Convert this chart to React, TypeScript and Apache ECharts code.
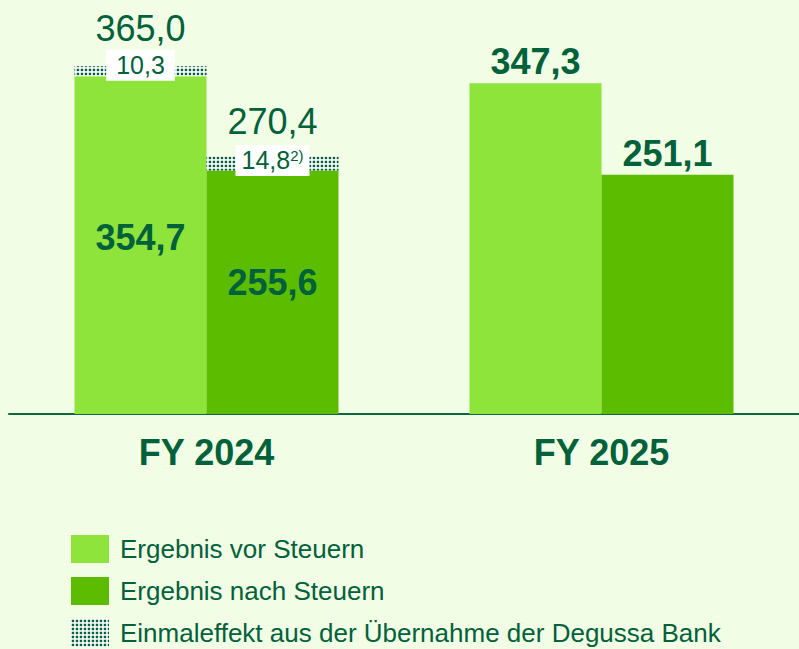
import React, { useEffect, useRef } from 'react';
import * as echarts from 'echarts';

const categories = ['FY 2024', 'FY 2025'];
const preTax = [354.7, 347.3];
const afterTax = [255.6, 251.1];
const oneOffPreTax: (number | null)[] = [10.3, null];
const oneOffAfterTax: (number | null)[] = [14.8, null];
const legendNames = [
  'Ergebnis vor Steuern',
  'Ergebnis nach Steuern',
  'Einmaleffekt aus der Übernahme der Degussa Bank',
];
const footnoteAfterTax = '2)';

const DARK = '#00613b';
const LIGHT_BAR = '#8ee43b';
const DARK_BAR = '#5cbc00';
const BG = '#f1fde4';
const FONT = '"Liberation Sans", Arial, sans-serif';

const fmt = (v: number) => v.toFixed(1).replace('.', ',');

function makePattern() {
  const s = 4;
  const c = document.createElement('canvas');
  c.width = 4 * s;
  c.height = 4 * s;
  const ctx = c.getContext('2d')!;
  ctx.fillStyle = '#ffffff';
  ctx.fillRect(0, 0, 4 * s, 4 * s);
  ctx.fillStyle = DARK;
  ctx.fillRect(0.75 * s, 0.75 * s, 2.4 * s, 2.4 * s);
  return { image: c, repeat: 'repeat', imageWidth: 4, imageHeight: 4 } as any;
}

export default function App() {
  const ref = useRef<HTMLDivElement>(null);
  useEffect(() => {
    document.body.style.margin = '0';
    if (!ref.current) return;
    const chart = echarts.init(ref.current, undefined, { renderer: 'svg' });
    const pattern = makePattern();
    const boldLabel = { fontSize: 36, fontWeight: 'bold', color: DARK, fontFamily: FONT };
    const option: any = {
      animation: false,
      backgroundColor: BG,
      textStyle: { fontFamily: FONT },
      grid: { left: 9, right: -6, top: 33, bottom: 235 },
      xAxis: {
        type: 'category',
        data: categories,
        axisLine: { lineStyle: { color: '#0d6a40', width: 2 } },
        axisTick: { show: false },
        axisLabel: { fontSize: 36, fontWeight: 'bold', color: DARK, fontFamily: FONT, margin: 20 },
      },
      yAxis: { type: 'value', min: 0, max: 400, show: false, splitLine: { show: false } },
      legend: {
        orient: 'vertical',
        left: 71,
        top: 535,
        padding: 0,
        itemWidth: 38,
        itemHeight: 28,
        itemGap: 14,
        icon: 'rect',
        selectedMode: false,
        data: legendNames,
        textStyle: { fontSize: 26, color: DARK, fontFamily: FONT, padding: [0, 0, 0, 6] },
      },
      series: [
        {
          name: legendNames[0],
          type: 'bar',
          stack: 'pre',
          barWidth: 132,
          barGap: '0%',
          itemStyle: { color: LIGHT_BAR },
          label: { show: true, ...boldLabel, formatter: (p: any) => fmt(p.value) },
          data: preTax.map((v, i) => ({
            value: v,
            label: i === 0 ? { position: 'inside', offset: [0, -8] } : { position: 'top', distance: 4 },
          })),
        },
        {
          name: legendNames[2],
          type: 'bar',
          stack: 'pre',
          barWidth: 132,
          barGap: '0%',
          itemStyle: { color: pattern },
          label: {
            show: true,
            position: 'inside',
            offset: [0, -6],
            backgroundColor: '#ffffff',
            padding: [3, 10],
            fontSize: 25,
            color: DARK,
            fontFamily: FONT,
            formatter: (p: any) => fmt(p.value),
          },
          data: oneOffPreTax,
        },
        {
          name: 'Summe vor Steuern',
          type: 'bar',
          stack: 'pre',
          barWidth: 132,
          barGap: '0%',
          silent: true,
          itemStyle: { color: 'rgba(0,0,0,0)' },
          label: {
            show: true,
            position: 'top',
            distance: 20,
            fontSize: 36,
            color: DARK,
            fontFamily: FONT,
            formatter: (p: any) => fmt(preTax[p.dataIndex] + (oneOffPreTax[p.dataIndex] as number)),
          },
          data: oneOffPreTax.map((v) => (v == null ? null : 0)),
        },
        {
          name: legendNames[1],
          type: 'bar',
          stack: 'after',
          barWidth: 132,
          barGap: '0%',
          itemStyle: { color: DARK_BAR },
          label: { show: true, ...boldLabel, formatter: (p: any) => fmt(p.value) },
          data: afterTax.map((v, i) => ({
            value: v,
            label: i === 0 ? { position: 'inside', offset: [0, -10] } : { position: 'top', distance: 3 },
          })),
        },
        {
          name: legendNames[2],
          type: 'bar',
          stack: 'after',
          barWidth: 132,
          barGap: '0%',
          itemStyle: { color: pattern },
          label: {
            show: true,
            position: 'inside',
            offset: [0, -3],
            backgroundColor: '#ffffff',
            padding: [3, 6],
            color: DARK,
            fontFamily: FONT,
            formatter: (p: any) => `{a|${fmt(p.value)}}{s|${footnoteAfterTax}}`,
            rich: {
              a: { fontSize: 25, color: DARK, fontFamily: FONT },
              s: { fontSize: 15, color: DARK, fontFamily: FONT, verticalAlign: 'top' },
            },
          },
          data: oneOffAfterTax,
        },
        {
          name: 'Summe nach Steuern',
          type: 'bar',
          stack: 'after',
          barWidth: 132,
          barGap: '0%',
          silent: true,
          itemStyle: { color: 'rgba(0,0,0,0)' },
          label: {
            show: true,
            position: 'top',
            distance: 17,
            fontSize: 36,
            color: DARK,
            fontFamily: FONT,
            formatter: (p: any) => fmt(afterTax[p.dataIndex] + (oneOffAfterTax[p.dataIndex] as number)),
          },
          data: oneOffAfterTax.map((v) => (v == null ? null : 0)),
        },
      ],
    };
    chart.setOption(option);
    return () => chart.dispose();
  }, []);
  return <div ref={ref} style={{ width: 799, height: 649, background: BG }} />;
}
